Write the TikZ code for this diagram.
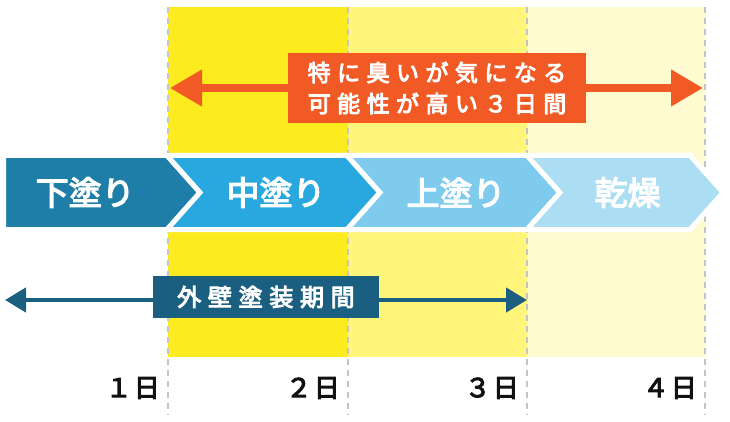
\documentclass[tikz,border=0pt]{standalone}
\usepackage{fontspec}
\newfontfamily\jp[FakeBold=4]{Noto Sans CJK JP}
\newfontfamily\jpsp[LetterSpace=28,FakeBold=4]{Noto Sans CJK JP}
\usetikzlibrary{arrows.meta,positioning}

\definecolor{dayone}{HTML}{FCEB1E}
\definecolor{daytwo}{HTML}{FFF57B}
\definecolor{daythree}{HTML}{FFFBD1}
\definecolor{guidegray}{HTML}{C4C4C4}
\definecolor{stepone}{HTML}{1F7EA8}
\definecolor{steptwo}{HTML}{29A8E0}
\definecolor{stepthree}{HTML}{7FCBEE}
\definecolor{stepfour}{HTML}{ABDDF3}
\definecolor{smellorange}{HTML}{F15A24}
\definecolor{termteal}{HTML}{1B5F80}
\definecolor{daytext}{HTML}{111111}

\tikzset{
  guide/.style={draw=guidegray, line width=1.2pt, dash pattern=on 6pt off 5pt},
  chev/.style={draw=white, line width=5pt, line join=miter},
  chevtext/.style={text=white, font=\jp\fontsize{33}{33}\selectfont},
  smellarrow/.style={draw=smellorange, line width=7.5pt, {Triangle[length=32pt,width=35pt]}-{Triangle[length=32pt,width=35pt]}},
  smellbox/.style={fill=smellorange, text=white, minimum width=298pt, minimum height=70pt, inner sep=0pt, align=center, font=\jpsp\fontsize{23}{31}\selectfont},
  termarrow/.style={draw=termteal, line width=4.5pt, {Triangle[length=21pt,width=24pt]}-{Triangle[length=21pt,width=24pt]}},
  termbox/.style={fill=termteal, text=white, minimum width=226pt, minimum height=42pt, inner sep=0pt, font=\jpsp\fontsize{24}{24}\selectfont},
  daylabel/.style={text=daytext, anchor=east, inner sep=0pt, font=\jp\fontsize{26}{26}\selectfont}
}

\begin{document}
\begin{tikzpicture}[x=1pt,y=-1pt]
	\useasboundingbox (0,0) rectangle (730,422);

	% day columns
	\fill[dayone] (168,7) rectangle (348,357);
	\fill[daytwo] (348,7) rectangle (527,357);
	\fill[daythree] (527,7) rectangle (705,357);
	\foreach \x in {168,348,527,705}
		\draw[guide] (\x,7) -- (\x,415);

	% process chevrons
	\foreach \a/\b/\c/\lbl/\col [count=\i] in {3.5/167/0/下塗り/stepone, 167/347/1/中塗り/steptwo, 347/527/1/上塗り/stepthree, 527/690/1/乾燥/stepfour} {
		\filldraw[chev, fill=\col] (\a,155.5) -- (\b,155.5) -- (\b+33,192.5) -- (\b,229.5) -- (\a,229.5) -- (\a+33*\c,192.5) -- cycle;
		\node[chevtext] (step\i) at ({(\a+\b)/2+19*\c},192.5) {\lbl};
	}

	% smell period
	\coordinate (smellL) at (170,88);
	\coordinate (smellR) at (703,88);
	\draw[smellarrow] (smellL) -- (smellR);
	\node[smellbox] (smell) at (437,88) {特に臭いが気になる\\可能性が高い３日間};

	% painting period
	\coordinate (termL) at (5,300);
	\coordinate (termR) at (527,300);
	\draw[termarrow] (termL) -- (termR);
	\node[termbox] (term) at (266,297) {外壁塗装期間};

	% days
	\foreach \x/\num [count=\i] in {168/１,348/２,527/３,705/４}
		\node[daylabel] (day\i) at (\x-8,388) {\num\kern2pt 日};
\end{tikzpicture}
\end{document}
